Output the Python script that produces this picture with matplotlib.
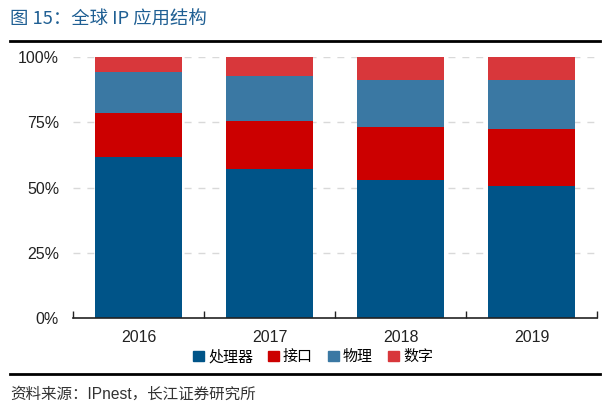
import numpy as np
import matplotlib
matplotlib.use("Agg")
import matplotlib.pyplot as plt
from matplotlib.lines import Line2D
import matplotlib.patches as mpatches

plt.rcParams["font.family"] = ["Liberation Sans", "Noto Sans CJK SC", "DejaVu Sans"]

# ── Data (share of global IP market, %) ─────────────────────────────────────
years = ["2016", "2017", "2018", "2019"]
series_names = ["处理器", "接口", "物理", "数字"]
processor = [61.7, 57.0, 53.0, 50.4]
interface = [16.8, 18.3, 20.2, 22.1]
physical = [15.6, 17.5, 18.1, 18.8]
digital = [5.9, 7.2, 8.7, 8.7]

COLORS = ["#005488", "#cc0000", "#3a78a3", "#d8373b"]
CJK = ["Noto Sans CJK SC", "DejaVu Sans"]
MIXED = ["Liberation Sans", "Noto Sans CJK SC", "DejaVu Sans"]

W, H = 611, 417
fig = plt.figure(figsize=(W / 100, H / 100), dpi=100)
ax = fig.add_axes([73 / W, 1 - 318 / H, 524 / W, (318 - 57) / H])

x = np.arange(len(years))
bottom = np.zeros(len(years))
handles = []
for name, vals, col in zip(series_names, [processor, interface, physical, digital], COLORS):
    ax.bar(x, vals, width=0.67, bottom=bottom, color=col, zorder=2)
    bottom += np.array(vals)
    handles.append(mpatches.Patch(color=col, label=name))

ax.set_xlim(-0.5, len(years) - 0.5)
ax.set_ylim(0, 100)
ax.set_yticks([0, 25, 50, 75, 100])
ax.set_yticklabels(["0%", "25%", "50%", "75%", "100%"], fontsize=11.5, color="#222222")
for yv in [25, 50, 75, 100]:
    ax.axhline(yv, color="#d9d9d9", lw=1.0, ls=(0, (5, 5)), zorder=1)

# category ticks on boundaries, pointing inward
ax.set_xticks(np.arange(-0.5, len(years)), minor=False)
ax.set_xticklabels([])
ax.tick_params(axis="x", direction="in", length=5, width=1.0, color="#222222")
ax.set_xticks(x, minor=True)
ax.set_xticklabels(years, minor=True, fontsize=11.5, color="#222222")
ax.tick_params(axis="x", which="minor", length=0, pad=9)
ax.tick_params(axis="y", length=0, pad=10)

for side in ["top", "right", "left"]:
    ax.spines[side].set_visible(False)
ax.spines["bottom"].set_color("#222222")
ax.spines["bottom"].set_linewidth(1.2)

leg = fig.legend(
    handles=handles,
    loc="center",
    bbox_to_anchor=(313 / W, 1 - 357 / H),
    ncol=4,
    frameon=False,
    prop={"family": CJK, "size": 10.8},
    handlelength=0.7,
    handleheight=0.7,
    handletextpad=0.3,
    columnspacing=1.0,
)

# header / footer
fig.text(10 / W, 1 - 20 / H, "图 15：全球 IP 应用结构", family=CJK, fontsize=13.2,
         color="#1f5f93", va="center", ha="left")
fig.add_artist(Line2D([10 / W, 600 / W], [1 - 41 / H] * 2, color="black", lw=2))
fig.add_artist(Line2D([10 / W, 600 / W], [1 - 374 / H] * 2, color="black", lw=2))
fig.text(10 / W, 1 - 394 / H, "资料来源：IPnest，长江证券研究所", family=MIXED, fontsize=11.2,
         color="#333333", va="center", ha="left")

fig.savefig("out.png", dpi=100)
